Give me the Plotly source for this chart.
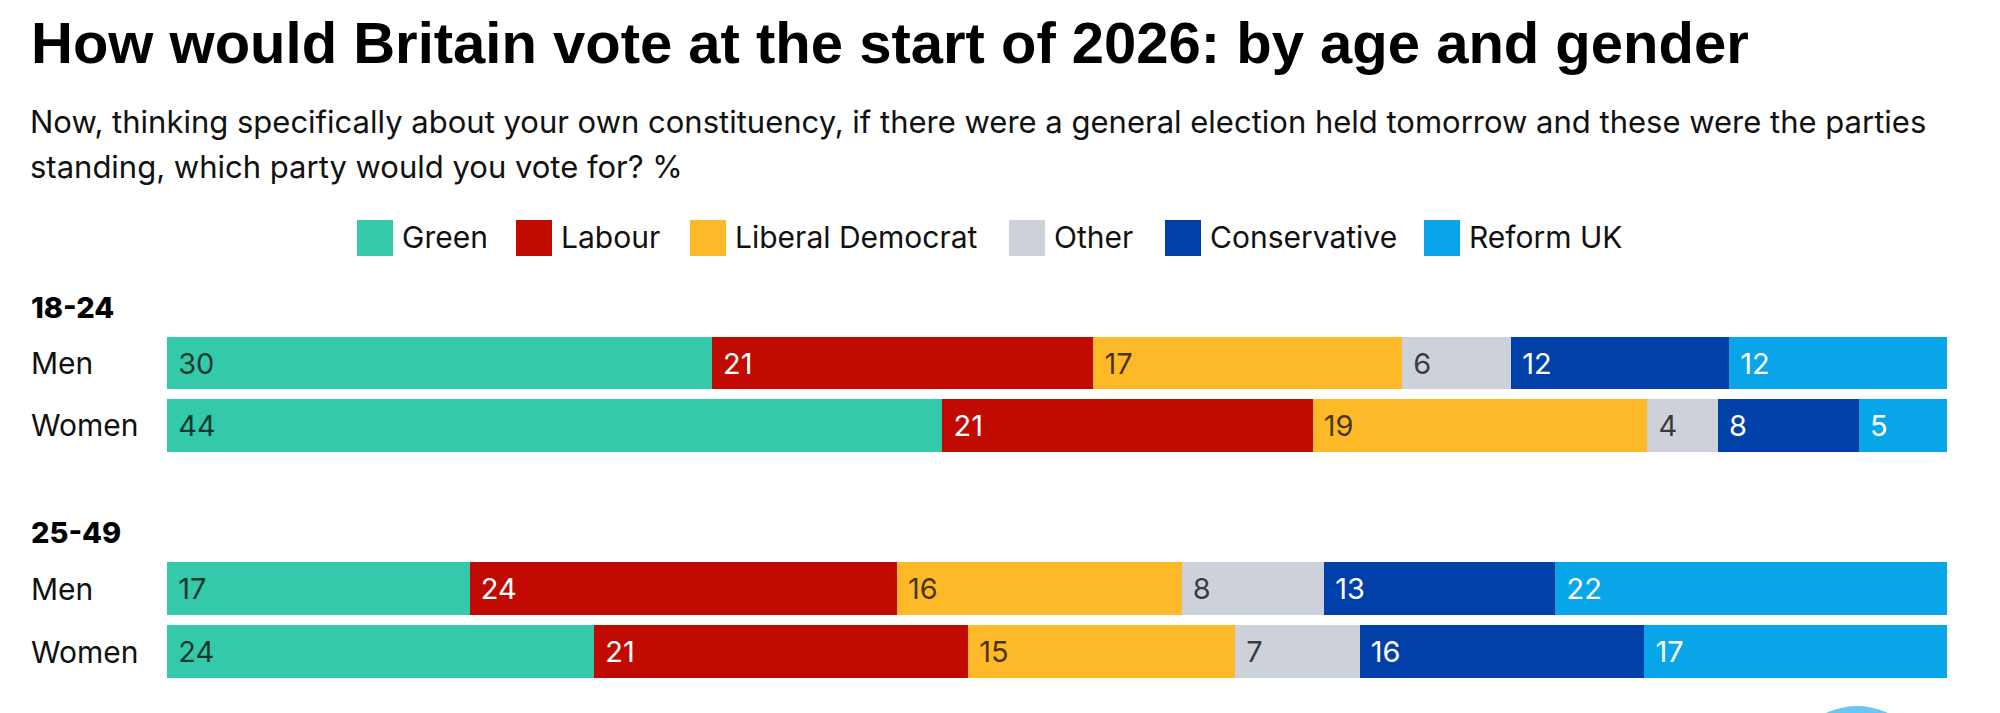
import plotly.graph_objects as go

W, H = 2000, 713

parties = ["Green", "Labour", "Liberal Democrat", "Other", "Conservative", "Reform UK"]
colors = ["#33c9a9", "#c10b02", "#fdb927", "#cdd1da", "#0040a8", "#08a5e8"]
text_colors = ["rgba(0,0,0,0.72)", "#ffffff", "rgba(0,0,0,0.72)", "rgba(0,0,0,0.72)", "#ffffff", "#ffffff"]

genders = ["Men", "Women"]
age_groups = ["18-24", "25-49"]

# values per party: [Men, Women]
v_18_24 = {
    "Green": [30, 44],
    "Labour": [21, 21],
    "Liberal Democrat": [17, 19],
    "Other": [6, 4],
    "Conservative": [12, 8],
    "Reform UK": [12, 5],
}
v_25_49 = {
    "Green": [17, 24],
    "Labour": [24, 21],
    "Liberal Democrat": [16, 15],
    "Other": [8, 7],
    "Conservative": [13, 16],
    "Reform UK": [22, 17],
}

title = "How would Britain vote at the start of 2026: by age and gender"
subtitle1 = "Now, thinking specifically about your own constituency, if there were a general election held tomorrow and these were the parties"
subtitle2 = "standing, which party would you vote for? %"

BODY = "Inter, Liberation Sans, Arial, sans-serif"
TITLEF = "Liberation Sans, Arial, sans-serif"

def px_y(p):
    return (H - p) / H

def px_x(p):
    return p / W

fig = go.Figure()
for gi, data in enumerate([v_18_24, v_25_49]):
    ax = "" if gi == 0 else str(gi + 1)
    for pi, party in enumerate(parties):
        vals = data[party]
        fig.add_trace(go.Bar(
            y=genders, x=vals, orientation="h",
            name=party, showlegend=False,
            marker=dict(color=colors[pi], line=dict(width=0)),
            text=[" " + str(v) for v in vals],
            textposition="inside", insidetextanchor="start",
            textfont=dict(family=BODY, size=29, color=text_colors[pi]),
            constraintext="none",
            xaxis="x" + ax, yaxis="y" + ax,
            hoverinfo="skip",
        ))

xdom = [px_x(167), px_x(1947)]
fig.update_layout(
    width=W, height=H,
    margin=dict(l=0, r=0, t=0, b=0, pad=0),
    paper_bgcolor="white", plot_bgcolor="white",
    barmode="stack", barnorm="percent", bargap=0.16,
    xaxis=dict(domain=xdom, range=[0, 100], visible=False, fixedrange=True),
    yaxis=dict(domain=[px_y(456.5), px_y(332)], anchor="x", autorange="reversed",
               showticklabels=False, showgrid=False, zeroline=False, fixedrange=True),
    xaxis2=dict(domain=xdom, range=[0, 100], visible=False, anchor="y2", fixedrange=True),
    yaxis2=dict(domain=[px_y(683), px_y(557)], anchor="x2", autorange="reversed",
                showticklabels=False, showgrid=False, zeroline=False, fixedrange=True),
    font=dict(family=BODY, color="#111111"),
)

ann = []
ann.append(dict(text="<b>" + title + "</b>", x=px_x(29), y=px_y(42), xref="paper", yref="paper",
                xanchor="left", yanchor="middle", showarrow=False,
                font=dict(family=TITLEF, size=58, color="#000000")))
ann.append(dict(text=subtitle1, x=px_x(28), y=px_y(121), xref="paper", yref="paper",
                xanchor="left", yanchor="middle", showarrow=False,
                font=dict(family=BODY, size=31, color="#111111")))
ann.append(dict(text=subtitle2, x=px_x(28), y=px_y(166), xref="paper", yref="paper",
                xanchor="left", yanchor="middle", showarrow=False,
                font=dict(family=BODY, size=31, color="#111111")))

# legend (custom, large swatches)
legend_x = [357, 516, 690, 1009, 1165, 1424]
shapes = []
for pi, party in enumerate(parties):
    x0 = legend_x[pi]
    shapes.append(dict(type="rect", xref="paper", yref="paper",
                       x0=px_x(x0), x1=px_x(x0 + 36), y0=px_y(256), y1=px_y(220),
                       fillcolor=colors[pi], line=dict(width=0)))
    ann.append(dict(text=party, x=px_x(x0 + 43), y=px_y(237), xref="paper", yref="paper",
                    xanchor="left", yanchor="middle", showarrow=False,
                    font=dict(family=BODY, size=30, color="#111111")))

# group headings
for gi, (grp, ypix) in enumerate(zip(age_groups, [307, 532])):
    ann.append(dict(text=grp, x=px_x(29), y=px_y(ypix), xref="paper", yref="paper",
                    xanchor="left", yanchor="middle", showarrow=False,
                    font=dict(family=BODY, size=29, color="#000000", weight=800)))
    yref = "y" if gi == 0 else "y2"
    for g in genders:
        ann.append(dict(text=g, x=px_x(29), y=g, xref="paper", yref=yref,
                        xanchor="left", yanchor="middle", showarrow=False,
                        font=dict(family=BODY, size=30, color="#111111")))

# partially visible logo circle at bottom edge
shapes.append(dict(type="circle", xref="paper", yref="paper",
                   x0=px_x(1785), x1=px_x(1929), y0=px_y(850), y1=px_y(706),
                   fillcolor="#6cc5f0", line=dict(width=0), layer="above"))

fig.update_layout(annotations=ann, shapes=shapes)
fig.write_html("out.html", config={"displayModeBar": False},
               post_script="document.body.style.margin='0px';document.body.style.overflow='hidden';")
